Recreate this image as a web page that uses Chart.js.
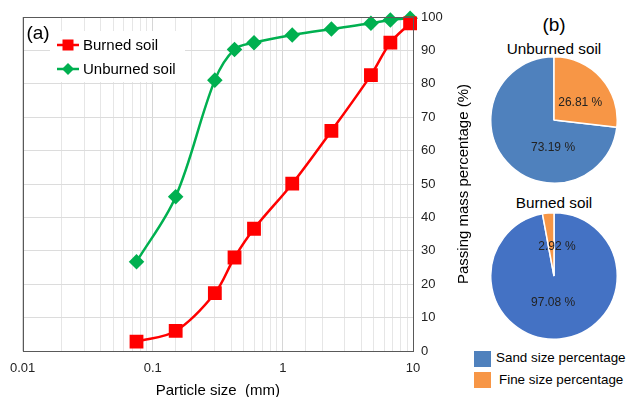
<!DOCTYPE html>
<html><head><meta charset="utf-8">
<script src="https://cdn.jsdelivr.net/npm/chart.js@4.4.1/dist/chart.umd.min.js"></script>
<style>
html,body{margin:0;padding:0;background:#fff;}
body{width:626px;height:397px;overflow:hidden;font-family:"Liberation Sans",Arial,sans-serif;color:#000;}
#wrap{position:relative;width:626px;height:397px;}
.abs{position:absolute;}
.ctr{position:absolute;transform:translate(-50%,-50%);white-space:nowrap;line-height:1;}
.sw{position:absolute;width:17px;height:16px;}
.lt{position:absolute;white-space:nowrap;line-height:1;transform:translateY(-50%);font-size:13.4px;}
</style></head><body>
<div id="wrap">
  <canvas id="lineChart" class="abs" width="480" height="397" style="left:0;top:0"></canvas>
  <div class="ctr" style="left:38px;top:32px;font-size:19px">(a)</div>
  <div class="ctr" style="left:462px;top:184px;font-size:15px;transform:translate(-50%,-50%) rotate(-90deg)">Passing mass percentage (%)</div>
  <div class="ctr" style="left:554px;top:24px;font-size:19px">(b)</div>
  <div class="ctr" style="left:554px;top:49px;font-size:15.3px">Unburned soil</div>
  <canvas id="pieUnburned" class="abs" width="128" height="128" style="left:490px;top:56px"></canvas>
  <div class="ctr" style="left:554px;top:203px;font-size:15.3px">Burned soil</div>
  <canvas id="pieBurned" class="abs" width="128" height="128" style="left:490px;top:212px"></canvas>
  <div class="sw" id="sw0" style="left:474px;top:351px"></div>
  <div class="lt" id="lt0" style="left:496px;top:358px"></div>
  <div class="sw" id="sw1" style="left:474px;top:372px"></div>
  <div class="lt" id="lt1" style="left:499px;top:380px"></div>
</div>
<script>
// ---- data ----
const sieveSizes = [0.075, 0.15, 0.3, 0.425, 0.6, 1.18, 2.36, 4.75, 6.7, 9.5];
const burnedPassing = [2.8, 6.0, 17.3, 28.0, 36.6, 50.1, 65.9, 82.6, 92.3, 98.1];
const unburnedPassing = [26.7, 46.2, 81.1, 90.3, 92.3, 94.6, 96.4, 98.1, 99.1, 99.6];
const seriesNames = ['Burned soil', 'Unburned soil'];
const xMajorTicks = [0.01, 0.1, 1, 10];
const yTickValues = [0, 10, 20, 30, 40, 50, 60, 70, 80, 90, 100];
const pieCategories = ['Sand size percentage', 'Fine size percentage'];
const unburnedShares = [73.19, 26.81];
const burnedShares = [97.08, 2.92];

// ---- styles ----
const RED = '#FF0000', GREEN = '#00B050';
const FONT = '"Liberation Sans", Arial, sans-serif';
const legendColors = ['#4F81BD', '#F79646'];

const frameAndLegend = {
  id: 'frameAndLegend',
  afterDraw(chart) {
    const {ctx, chartArea: a} = chart;
    ctx.save();
    ctx.strokeStyle = '#595959';
    ctx.lineWidth = 1;
    ctx.strokeRect(Math.round(a.left) + 0.5, Math.round(a.top) + 0.5, Math.round(a.right - a.left), Math.round(a.bottom - a.top));
    ctx.restore();
  },
  beforeDatasetsDraw(chart) {
    const {ctx} = chart;
    ctx.save();
    ctx.fillStyle = '#fff';
    ctx.fillRect(50, 31, 135, 51);
    const items = [
      {name: seriesNames[0], color: RED, shape: 'square', y: 45},
      {name: seriesNames[1], color: GREEN, shape: 'diamond', y: 69}
    ];
    items.forEach(it => {
      ctx.strokeStyle = it.color; ctx.lineWidth = 2.5;
      ctx.beginPath(); ctx.moveTo(57, it.y); ctx.lineTo(79, it.y); ctx.stroke();
      ctx.fillStyle = it.color;
      if (it.shape === 'square') { ctx.fillRect(62.5, it.y - 5.5, 11, 11); }
      else { ctx.beginPath(); ctx.moveTo(68, it.y - 6); ctx.lineTo(74, it.y); ctx.lineTo(68, it.y + 6); ctx.lineTo(62, it.y); ctx.closePath(); ctx.fill(); }
      ctx.fillStyle = '#000';
      ctx.font = '15px ' + FONT; ctx.textBaseline = 'middle'; ctx.textAlign = 'left';
      ctx.fillText(it.name, 83, it.y + 1);
    });
    ctx.restore();
  }
};

const isMajor = v => xMajorTicks.some(m => Math.abs(Math.log10(v) - Math.log10(m)) < 1e-6);

new Chart(document.getElementById('lineChart'), {
  type: 'line',
  data: {
    datasets: [
      {label: seriesNames[0], data: sieveSizes.map((x, i) => ({x, y: burnedPassing[i]})),
       borderColor: RED, backgroundColor: RED, borderWidth: 2.5, tension: 0.35,
       pointStyle: 'rect', pointRadius: 8, pointHoverRadius: 8, clip: false},
      {label: seriesNames[1], data: sieveSizes.map((x, i) => ({x, y: unburnedPassing[i]})),
       borderColor: GREEN, backgroundColor: GREEN, borderWidth: 2.5, tension: 0.35,
       pointStyle: 'rectRot', pointRadius: 6, pointHoverRadius: 6, clip: false}
    ]
  },
  options: {
    responsive: false, animation: false,
    layout: {padding: {left: 22, top: 17, right: 0, bottom: 0}},
    plugins: {legend: {display: false}, tooltip: {enabled: false}},
    scales: {
      x: {
        type: 'logarithmic', min: 0.01, max: 10,
        border: {display: false},
        grid: {color: ctx => (ctx.tick && isMajor(ctx.tick.value)) ? '#d6d6d6' : '#e6e6e6', drawTicks: false},
        ticks: {autoSkip: false, maxRotation: 0, padding: 10, color: '#222', font: {family: FONT, size: 13},
                callback: v => isMajor(v) ? String(+v) : ''},
        title: {display: true, text: 'Particle size  (mm)', color: '#000', font: {family: FONT, size: 15, lineHeight: 0.8}, padding: 0},
        afterFit: s => { s.height = 46; }
      },
      y: {
        position: 'right', min: 0, max: 100,
        afterBuildTicks: s => { s.ticks = yTickValues.map(v => ({value: v})); },
        border: {display: false},
        grid: {color: '#dcdcdc', drawTicks: false},
        ticks: {padding: 8, color: '#222', font: {family: FONT, size: 13}},
        afterFit: s => { s.width = 67; }
      }
    }
  },
  plugins: [frameAndLegend]
});

const pieLabels = {
  id: 'pieLabels',
  afterDatasetsDraw(chart, args, opts) {
    const meta = chart.getDatasetMeta(0);
    const {ctx} = chart;
    ctx.save();
    ctx.font = '12px ' + FONT; ctx.fillStyle = '#222'; ctx.textAlign = 'center'; ctx.textBaseline = 'middle';
    meta.data.forEach((arc, i) => {
      const v = chart.data.datasets[0].data[i];
      const ang = opts.angles[i] * Math.PI / 180;
      const r = arc.outerRadius * opts.dist[i];
      ctx.fillText(v.toFixed(2) + ' %', arc.x + Math.sin(ang) * r, arc.y - Math.cos(ang) * r);
    });
    ctx.restore();
  }
};

function makePie(id, values, colors, rotation, angles, dist) {
  new Chart(document.getElementById(id), {
    type: 'pie',
    data: {labels: pieCategories, datasets: [{data: values, backgroundColor: colors, borderColor: '#fff', borderWidth: 1.5}]},
    options: {
      responsive: false, animation: false, rotation: rotation,
      layout: {padding: 0},
      plugins: {legend: {display: false}, tooltip: {enabled: false}, pieLabels: {angles, dist}}
    },
    plugins: [pieLabels]
  });
}
makePie('pieUnburned', unburnedShares, ['#4F81BD', '#F79646'], unburnedShares[1] * 3.6, [182, 56], [0.44, 0.5]);
makePie('pieBurned', burnedShares, ['#4472C4', '#F79646'], 0, [182, 6], [0.42, 0.46]);

pieCategories.forEach((c, i) => {
  document.getElementById('sw' + i).style.background = legendColors[i];
  document.getElementById('lt' + i).textContent = c;
});
</script>
</body></html>
